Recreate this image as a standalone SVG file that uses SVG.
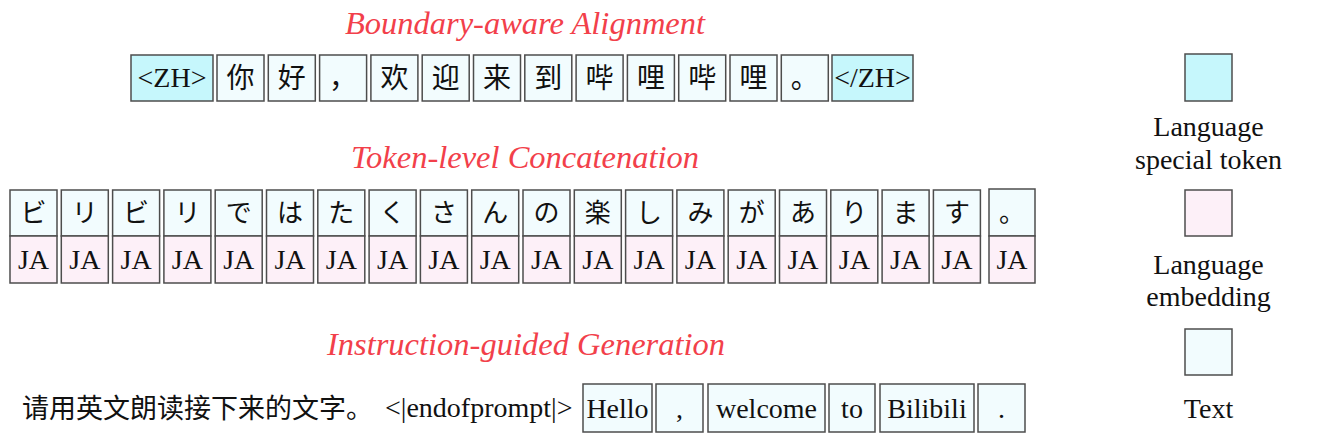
<svg xmlns="http://www.w3.org/2000/svg" width="1332" height="448" viewBox="0 0 1332 448">
<style>
.bx{stroke:#4d4d4d;stroke-width:1.5}
.sp{fill:#c6f7fc}
.tx{fill:#f2fcfe}
.em{fill:#fdf0f8}
.title{font-family:"Liberation Serif","Times New Roman",serif;font-style:italic;font-size:32.5px;fill:#f2404a;text-anchor:middle}
.ser{font-family:"Liberation Serif","Times New Roman",serif;font-size:28px;fill:#111;text-anchor:middle}
.zh{font-family:"Noto Sans CJK SC",sans-serif;font-size:28px;fill:#111;text-anchor:middle}
.ja{font-family:"Noto Sans CJK JP",sans-serif;font-size:26px;fill:#111;text-anchor:middle}
.lg{font-family:"Liberation Serif","Times New Roman",serif;font-size:28px;fill:#111;text-anchor:middle}
</style>
<rect width="1332" height="448" fill="#fff"/>
<g id="titles">
<text class="title" x="525" y="34">Boundary-aware Alignment</text>
<text class="title" x="525" y="168">Token-level Concatenation</text>
<text class="title" x="526" y="355">Instruction-guided Generation</text>
</g>
<g id="row1">
<g id="r1-zh-open"><rect class="bx sp" x="131" y="55" width="82" height="46"/><text class="ser" x="172" y="87">&lt;ZH&gt;</text></g>
<g id="r1-0"><rect class="bx tx" x="217" y="55" width="47" height="46"/><text class="zh" x="240.5" y="88">你</text></g>
<g id="r1-1"><rect class="bx tx" x="268.3" y="55" width="47" height="46"/><text class="zh" x="291.8" y="88">好</text></g>
<g id="r1-2"><rect class="bx tx" x="319.6" y="55" width="47" height="46"/><text class="zh" x="343.1" y="88">，</text></g>
<g id="r1-3"><rect class="bx tx" x="370.9" y="55" width="47" height="46"/><text class="zh" x="394.4" y="88">欢</text></g>
<g id="r1-4"><rect class="bx tx" x="422.2" y="55" width="47" height="46"/><text class="zh" x="445.7" y="88">迎</text></g>
<g id="r1-5"><rect class="bx tx" x="473.5" y="55" width="47" height="46"/><text class="zh" x="497" y="88">来</text></g>
<g id="r1-6"><rect class="bx tx" x="524.8" y="55" width="47" height="46"/><text class="zh" x="548.3" y="88">到</text></g>
<g id="r1-7"><rect class="bx tx" x="576.1" y="55" width="47" height="46"/><text class="zh" x="599.6" y="88">哔</text></g>
<g id="r1-8"><rect class="bx tx" x="627.4" y="55" width="47" height="46"/><text class="zh" x="650.9" y="88">哩</text></g>
<g id="r1-9"><rect class="bx tx" x="678.7" y="55" width="47" height="46"/><text class="zh" x="702.2" y="88">哔</text></g>
<g id="r1-10"><rect class="bx tx" x="730" y="55" width="47" height="46"/><text class="zh" x="753.5" y="88">哩</text></g>
<g id="r1-11"><rect class="bx tx" x="781.3" y="55" width="47" height="46"/><text class="zh" x="804.8" y="88">。</text></g>
<g id="r1-zh-close"><rect class="bx sp" x="832" y="55" width="81" height="46"/><text class="ser" x="872.5" y="87">&lt;/ZH&gt;</text></g>
</g>
<g id="row2">
<g id="r2-0"><rect class="bx tx" x="10" y="190" width="47" height="46"/><rect class="bx em" x="10" y="236" width="47" height="47"/><text class="ja" x="33.5" y="222">ビ</text><text class="ser" x="33.5" y="269">JA</text></g>
<g id="r2-1"><rect class="bx tx" x="61.3" y="190" width="47" height="46"/><rect class="bx em" x="61.3" y="236" width="47" height="47"/><text class="ja" x="84.8" y="222">リ</text><text class="ser" x="84.8" y="269">JA</text></g>
<g id="r2-2"><rect class="bx tx" x="112.6" y="190" width="47" height="46"/><rect class="bx em" x="112.6" y="236" width="47" height="47"/><text class="ja" x="136.1" y="222">ビ</text><text class="ser" x="136.1" y="269">JA</text></g>
<g id="r2-3"><rect class="bx tx" x="163.9" y="190" width="47" height="46"/><rect class="bx em" x="163.9" y="236" width="47" height="47"/><text class="ja" x="187.4" y="222">リ</text><text class="ser" x="187.4" y="269">JA</text></g>
<g id="r2-4"><rect class="bx tx" x="215.2" y="190" width="47" height="46"/><rect class="bx em" x="215.2" y="236" width="47" height="47"/><text class="ja" x="238.7" y="222">で</text><text class="ser" x="238.7" y="269">JA</text></g>
<g id="r2-5"><rect class="bx tx" x="266.5" y="190" width="47" height="46"/><rect class="bx em" x="266.5" y="236" width="47" height="47"/><text class="ja" x="290" y="222">は</text><text class="ser" x="290" y="269">JA</text></g>
<g id="r2-6"><rect class="bx tx" x="317.8" y="190" width="47" height="46"/><rect class="bx em" x="317.8" y="236" width="47" height="47"/><text class="ja" x="341.3" y="222">た</text><text class="ser" x="341.3" y="269">JA</text></g>
<g id="r2-7"><rect class="bx tx" x="369.1" y="190" width="47" height="46"/><rect class="bx em" x="369.1" y="236" width="47" height="47"/><text class="ja" x="392.6" y="222">く</text><text class="ser" x="392.6" y="269">JA</text></g>
<g id="r2-8"><rect class="bx tx" x="420.4" y="190" width="47" height="46"/><rect class="bx em" x="420.4" y="236" width="47" height="47"/><text class="ja" x="443.9" y="222">さ</text><text class="ser" x="443.9" y="269">JA</text></g>
<g id="r2-9"><rect class="bx tx" x="471.7" y="190" width="47" height="46"/><rect class="bx em" x="471.7" y="236" width="47" height="47"/><text class="ja" x="495.2" y="222">ん</text><text class="ser" x="495.2" y="269">JA</text></g>
<g id="r2-10"><rect class="bx tx" x="523" y="190" width="47" height="46"/><rect class="bx em" x="523" y="236" width="47" height="47"/><text class="ja" x="546.5" y="222">の</text><text class="ser" x="546.5" y="269">JA</text></g>
<g id="r2-11"><rect class="bx tx" x="574.3" y="190" width="47" height="46"/><rect class="bx em" x="574.3" y="236" width="47" height="47"/><text class="ja" x="597.8" y="222">楽</text><text class="ser" x="597.8" y="269">JA</text></g>
<g id="r2-12"><rect class="bx tx" x="625.6" y="190" width="47" height="46"/><rect class="bx em" x="625.6" y="236" width="47" height="47"/><text class="ja" x="649.1" y="222">し</text><text class="ser" x="649.1" y="269">JA</text></g>
<g id="r2-13"><rect class="bx tx" x="676.9" y="190" width="47" height="46"/><rect class="bx em" x="676.9" y="236" width="47" height="47"/><text class="ja" x="700.4" y="222">み</text><text class="ser" x="700.4" y="269">JA</text></g>
<g id="r2-14"><rect class="bx tx" x="728.2" y="190" width="47" height="46"/><rect class="bx em" x="728.2" y="236" width="47" height="47"/><text class="ja" x="751.7" y="222">が</text><text class="ser" x="751.7" y="269">JA</text></g>
<g id="r2-15"><rect class="bx tx" x="779.5" y="190" width="47" height="46"/><rect class="bx em" x="779.5" y="236" width="47" height="47"/><text class="ja" x="803" y="222">あ</text><text class="ser" x="803" y="269">JA</text></g>
<g id="r2-16"><rect class="bx tx" x="830.8" y="190" width="47" height="46"/><rect class="bx em" x="830.8" y="236" width="47" height="47"/><text class="ja" x="854.3" y="222">り</text><text class="ser" x="854.3" y="269">JA</text></g>
<g id="r2-17"><rect class="bx tx" x="882.1" y="190" width="47" height="46"/><rect class="bx em" x="882.1" y="236" width="47" height="47"/><text class="ja" x="905.6" y="222">ま</text><text class="ser" x="905.6" y="269">JA</text></g>
<g id="r2-18"><rect class="bx tx" x="933.4" y="190" width="47" height="46"/><rect class="bx em" x="933.4" y="236" width="47" height="47"/><text class="ja" x="956.9" y="222">す</text><text class="ser" x="956.9" y="269">JA</text></g>
<g id="r2-19"><rect class="bx tx" x="989" y="189" width="46" height="47"/><rect class="bx em" x="989" y="236" width="46" height="47"/><text class="ja" x="1012" y="222">。</text><text class="ser" x="1012" y="269">JA</text></g>
</g>
<g id="row3">
<g id="prompt"><text x="22" y="418" font-family="'Noto Sans CJK SC',sans-serif" font-size="27" fill="#111">请用英文朗读接下来的文字。</text><text x="385" y="417" font-family="'Liberation Serif','Times New Roman',serif" font-size="28" fill="#111">&lt;|endofprompt|&gt;</text></g>
<g id="r3-hello"><rect class="bx tx" x="583" y="384" width="69" height="48"/><text class="ser" x="617.5" y="418">Hello</text></g>
<g id="r3-comma"><rect class="bx tx" x="656" y="384" width="47" height="48"/><text class="ser" x="679.5" y="418">,</text></g>
<g id="r3-welcome"><rect class="bx tx" x="708" y="384" width="117" height="48"/><text class="ser" x="766.5" y="418">welcome</text></g>
<g id="r3-to"><rect class="bx tx" x="829" y="384" width="46" height="48"/><text class="ser" x="852" y="418">to</text></g>
<g id="r3-bilibili"><rect class="bx tx" x="880" y="384" width="94" height="48"/><text class="ser" x="927" y="418">Bilibili</text></g>
<g id="r3-period"><rect class="bx tx" x="978" y="384" width="47" height="48"/><text class="ser" x="1001.5" y="418">.</text></g>
</g>
<g id="legend">
<g id="lg-special"><rect class="bx sp" x="1185" y="54" width="47" height="47"/><text class="lg" x="1208.5" y="136">Language</text><text class="lg" x="1208.5" y="169">special token</text></g>
<g id="lg-embed"><rect class="bx em" x="1185" y="190" width="47" height="46"/><text class="lg" x="1208.5" y="274">Language</text><text class="lg" x="1208.5" y="306">embedding</text></g>
<g id="lg-text"><rect class="bx tx" x="1185" y="329" width="47" height="46"/><text class="lg" x="1208.5" y="418">Text</text></g>
</g>
<g id="connectors"/>
</svg>
